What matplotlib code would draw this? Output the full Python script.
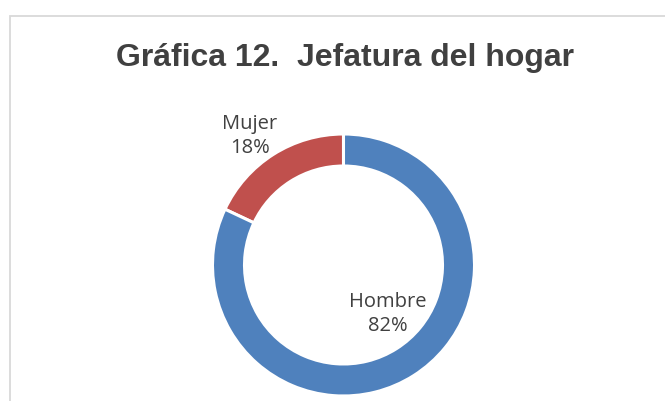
import matplotlib.pyplot as plt
from matplotlib.patches import Rectangle

categories = ["Mujer", "Hombre"]
shares = [18, 82]
colors = ["#C0504D", "#4F81BD"]

W, H = 665, 401
fig = plt.figure(figsize=(W / 100, H / 100), dpi=100)
ax = fig.add_axes([0, 0, 1, 1])

# chart frame (cut off at right and bottom)
fig.patches.append(Rectangle((9.5 / W, -0.1), 1.2, (H - 15.5) / H + 0.1,
                             transform=fig.transFigure, fill=False,
                             edgecolor="#D9D9D9", linewidth=1.3))

cx, cy = 343.5, H - 265
ax.pie(shares, colors=colors, startangle=90, counterclock=True,
       center=(cx, cy), radius=131, frame=True,
       wedgeprops=dict(width=32, edgecolor="white", linewidth=2.2))
ax.set_xlim(0, W)
ax.set_ylim(0, H)
ax.set_aspect("equal")
ax.axis("off")

fig.text(345 / W, 1 - 66 / H, "Gráfica 12.  Jefatura del hogar",
         ha="center", va="baseline", fontsize=23, fontweight="bold",
         color="#404040", family="Liberation Sans")

label_pos = [(250, 136), (388, 314)]
for name, pct, (lx, ly) in zip(categories, shares, label_pos):
    ax.text(lx, H - ly, f"{name}\n{pct}%", ha="center", va="center",
            fontsize=14.5, color="#404040", family="Open Sans", linespacing=1.3)

fig.savefig("out.png", dpi=100, facecolor="white")
